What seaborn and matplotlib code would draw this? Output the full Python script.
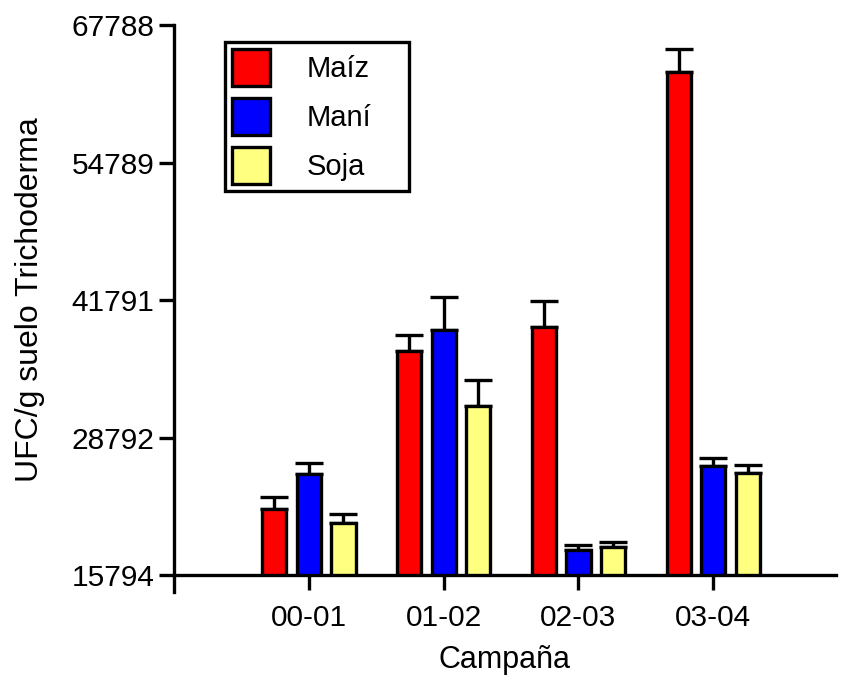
import matplotlib
matplotlib.use("Agg")
import matplotlib.pyplot as plt
import seaborn as sns
import pandas as pd
import numpy as np

campanas = ["00-01", "01-02", "02-03", "03-04"]
cultivos = ["Maíz", "Maní", "Soja"]
maiz = [22030, 36970, 39240, 63350]
mani = [25340, 38950, 18160, 26100]
soja = [20710, 31770, 18440, 25390]
err_maiz = [1130, 1510, 2460, 2170]
err_mani = [1040, 3120, 470, 800]
err_soja = [850, 2460, 470, 850]
yticks = [15794, 28792, 41791, 54789, 67788]
colores = ["#FF0000", "#0000FF", "#FFFF80"]

df = pd.DataFrame({
    "Campaña": campanas * 3,
    "Cultivo": np.repeat(cultivos, len(campanas)),
    "UFC": maiz + mani + soja,
})
errores = [err_maiz, err_mani, err_soja]

sns.set_style("ticks")
plt.rcParams["font.family"] = ["Liberation Sans", "DejaVu Sans"]
for k in ["text.color", "axes.labelcolor", "xtick.color", "ytick.color",
          "axes.edgecolor"]:
    plt.rcParams[k] = "black"

fig = plt.figure(figsize=(8.42, 6.84), dpi=100)
ax = fig.add_axes([174 / 842, 1 - 575 / 684, 662 / 842, 550 / 684])

lw = 2.4
sns.barplot(data=df, x="Campaña", y="UFC", hue="Cultivo", order=campanas,
            hue_order=cultivos, palette=colores, width=0.77, gap=0.3,
            edgecolor="black", linewidth=lw, errorbar=None, saturation=1,
            ax=ax, zorder=2)

# upper-only error bars with caps
for cont, err in zip(ax.containers, errores):
    for bar, e in zip(cont, err):
        xc = bar.get_x() + bar.get_width() / 2
        h = bar.get_y() + bar.get_height()
        ax.errorbar(xc, h, yerr=[[0], [e]], fmt="none", ecolor="black",
                    elinewidth=lw, capsize=10, capthick=lw, zorder=1)

ax.set_ylim(yticks[0], yticks[-1])
ax.set_xlim(-1, 3.91)
ax.set_yticks(yticks)
ax.set_yticklabels([str(t) for t in yticks])

for s in ["top", "right"]:
    ax.spines[s].set_visible(False)
for s in ["left", "bottom"]:
    ax.spines[s].set_linewidth(lw)
ax.spines["left"].set_bounds(yticks[0] - 17 * 94.5, yticks[-1])
ax.tick_params(axis="both", width=lw, length=11, labelsize=21.5)
ax.tick_params(axis="y", pad=3)
ax.tick_params(axis="x", pad=10)

ax.set_xlabel("Campaña", fontsize=22, labelpad=9)
ax.set_ylabel("UFC/g suelo Trichoderma", fontsize=23, labelpad=19)

leg = ax.legend(loc="upper left", bbox_to_anchor=(0.077, 0.69, 0.278, 0.279),
                mode="expand", fontsize=21,
                frameon=True, fancybox=False, edgecolor="black",
                handlelength=1.3, handleheight=1.55, handletextpad=1.25,
                labelspacing=0.43, borderpad=0.25, borderaxespad=0)
leg.get_frame().set_linewidth(lw)
leg.get_frame().set_alpha(1)

fig.savefig("out.png", dpi=100)
